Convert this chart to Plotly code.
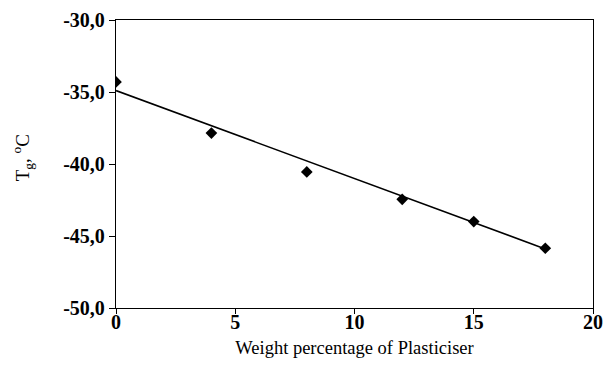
import plotly.graph_objects as go

# Data
plasticiser_wt = [0, 4, 8, 12, 15, 18]
tg_values = [-34.3, -37.85, -40.55, -42.45, -44.0, -45.85]

# Linear trend line endpoints
trend_x = [0, 18]
trend_y = [-34.9, -45.9]

x_ticks = [0, 5, 10, 15, 20]
y_ticks = [-50, -45, -40, -35, -30]
y_ticklabels = ["-50,0", "-45,0", "-40,0", "-35,0", "-30,0"]

SERIF = "Liberation Serif, Times New Roman, serif"

fig = go.Figure()
fig.add_trace(go.Scatter(x=trend_x, y=trend_y, mode="lines",
                         line=dict(color="black", width=1.6),
                         showlegend=False, hoverinfo="skip"))
fig.add_trace(go.Scatter(x=plasticiser_wt, y=tg_values, mode="markers",
                         marker=dict(symbol="diamond", size=9, color="black"),
                         showlegend=False))

fig.update_layout(
    template="none",
    width=605, height=374,
    margin=dict(l=116, r=12, t=20, b=66),
    paper_bgcolor="white", plot_bgcolor="white",
    font=dict(family=SERIF, color="#000000", size=16),
)
fig.update_xaxes(range=[0, 20], tickvals=x_ticks,
                 ticktext=[str(v) for v in x_ticks],
                 tickfont=dict(family=SERIF, size=20, color="#000000", weight="bold"),
                 ticklabelstandoff=-9,
                 showgrid=False, zeroline=False,
                 showline=True, linecolor="black", linewidth=1.3, mirror=True,
                 ticks="outside", ticklen=5, tickcolor="black", tickwidth=1,
                 title=dict(text="Weight percentage of Plasticiser",
                            font=dict(family=SERIF, size=18.5, color="#000000"),
                            standoff=8))
fig.update_yaxes(range=[-50, -30], tickvals=y_ticks, ticktext=y_ticklabels,
                 tickfont=dict(family=SERIF, size=20, color="#000000", weight="bold"),
                 showgrid=False, zeroline=False,
                 showline=True, linecolor="black", linewidth=1.3, mirror=True,
                 ticks="outside", ticklen=6, tickcolor="black", tickwidth=1)

fig.add_annotation(text="T<sub>g</sub>, <sup>o</sup>C", textangle=-90,
                   xref="paper", yref="paper", x=-0.197, y=0.52,
                   xanchor="center", yanchor="middle", showarrow=False,
                   font=dict(family=SERIF, size=19, color="#000000"))

fig.write_html("out.html")
